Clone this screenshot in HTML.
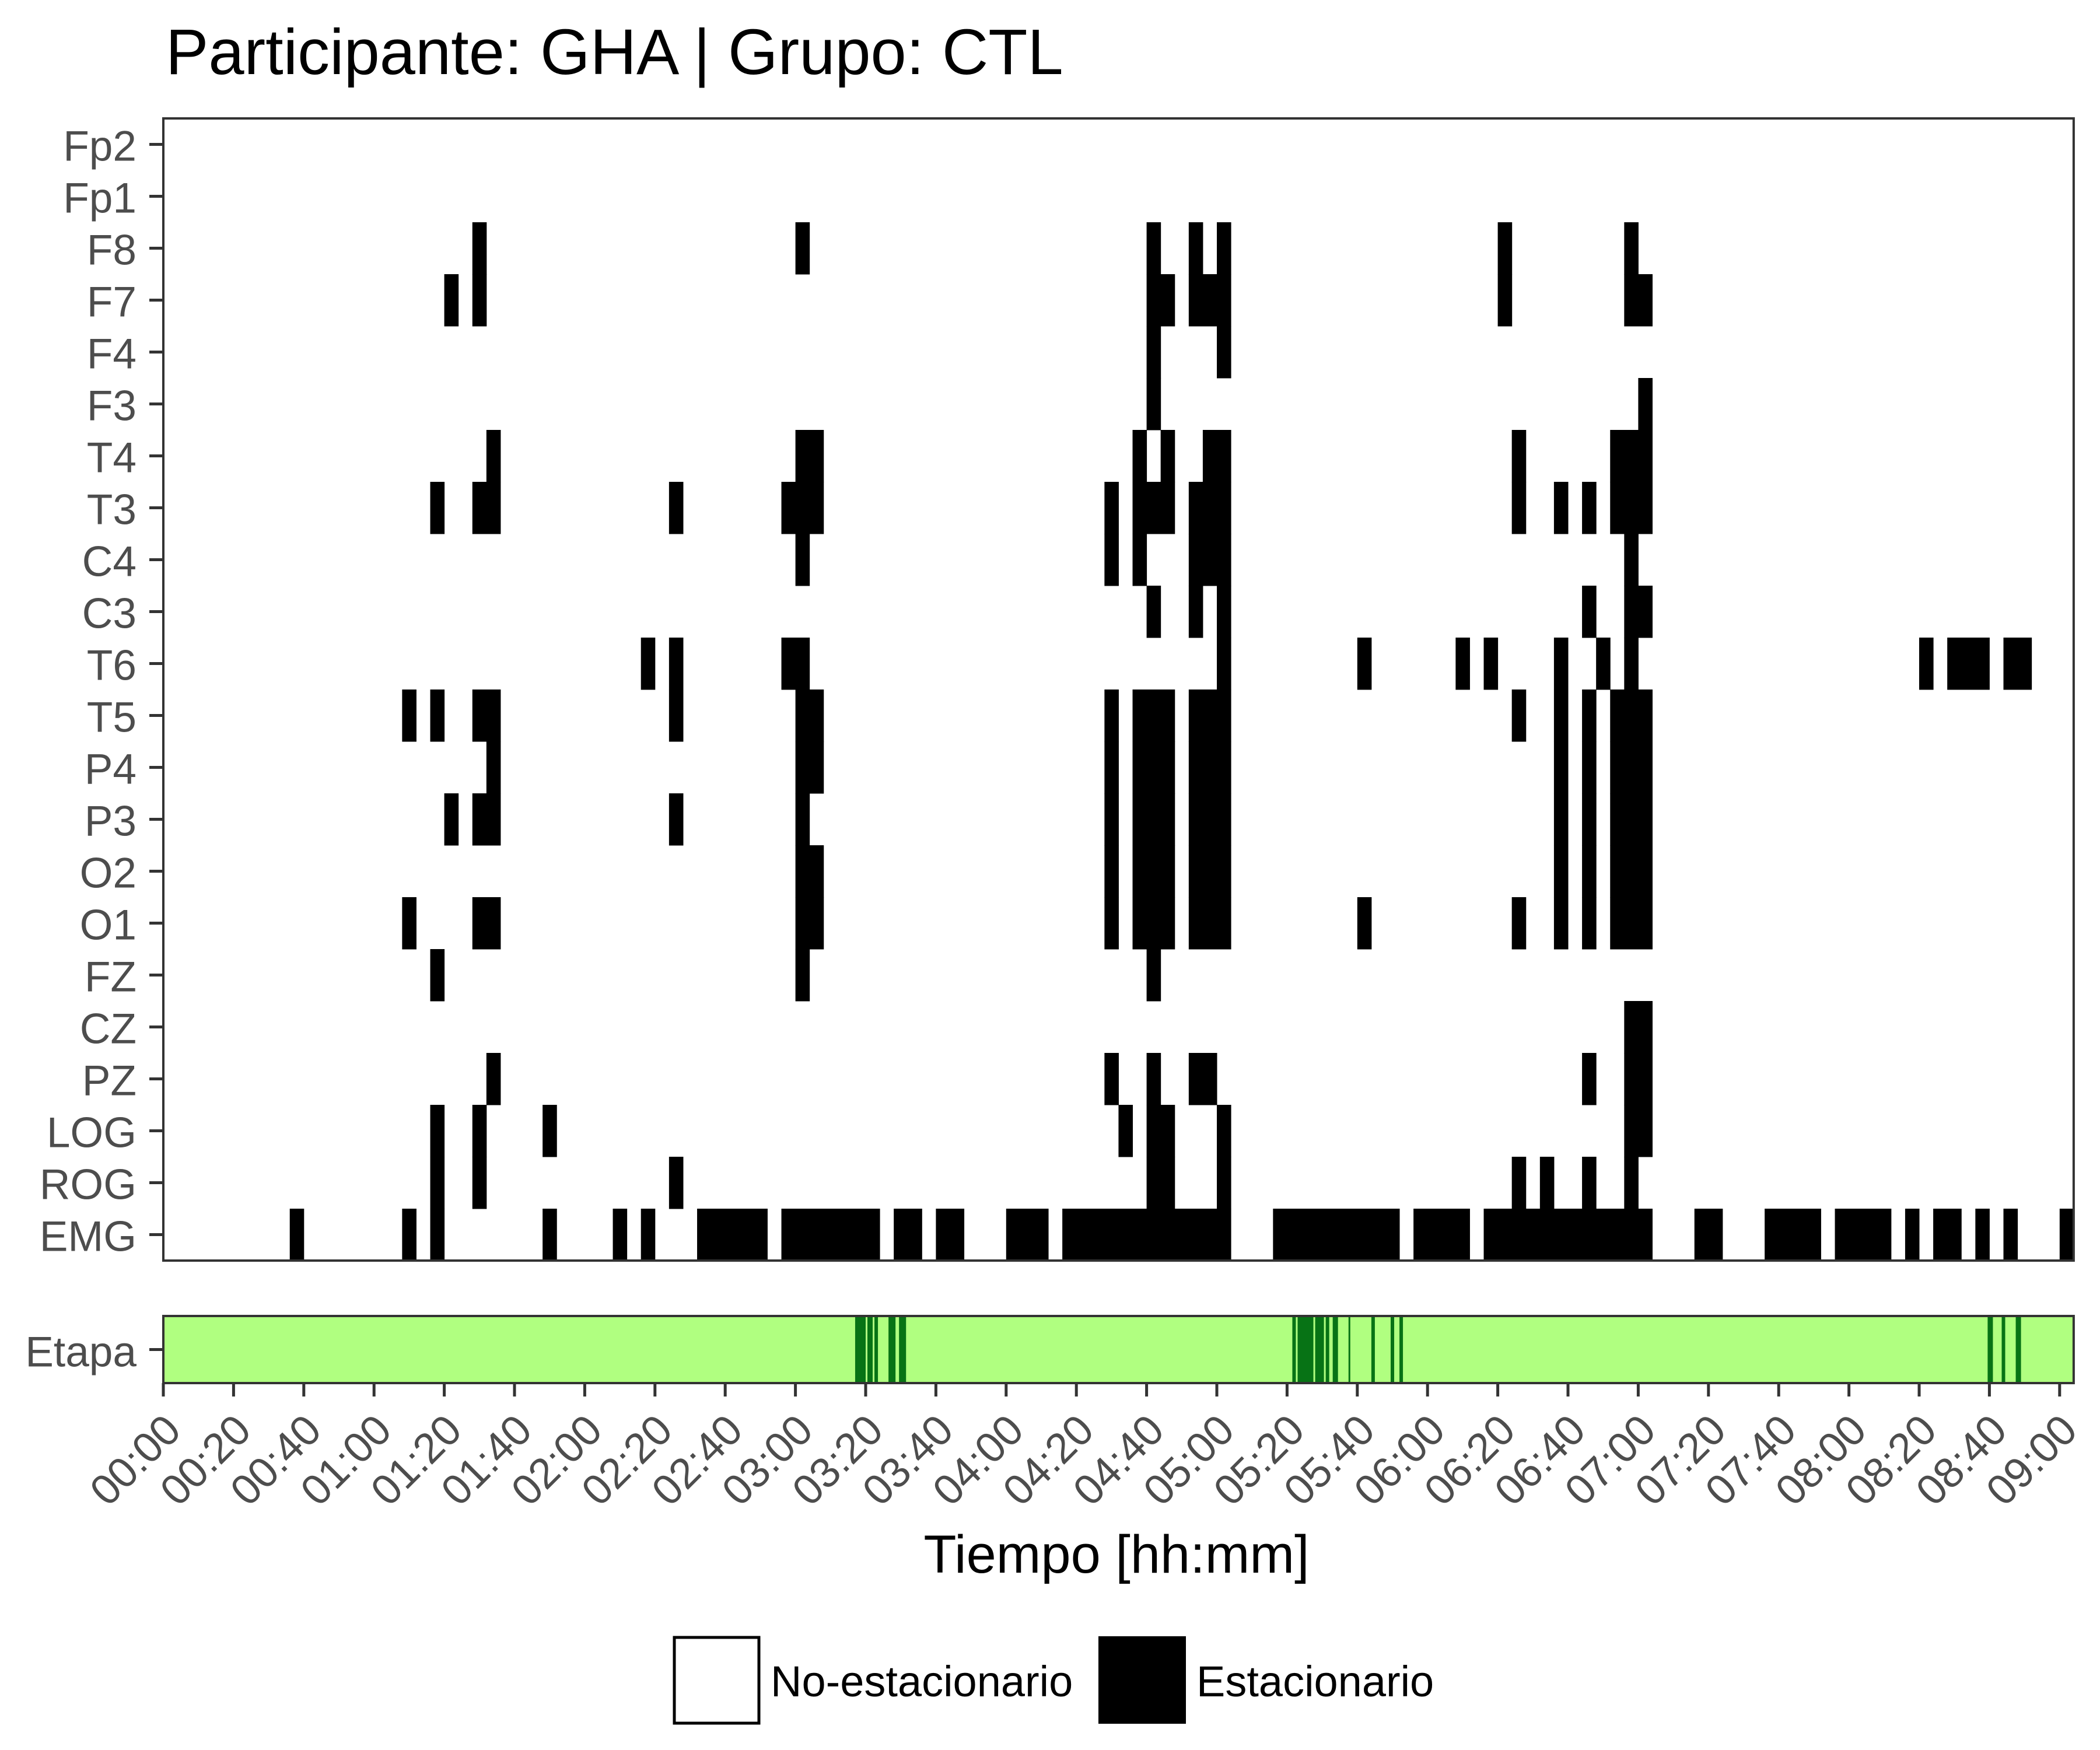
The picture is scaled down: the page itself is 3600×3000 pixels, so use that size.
<!DOCTYPE html>
<html><head><meta charset="utf-8"><style>
html,body{margin:0;padding:0;background:#fff;}
svg{display:block;font-family:"Liberation Sans",Arial,sans-serif;}
</style></head><body>
<svg id="chart" width="3600" height="3000" viewBox="0 0 3600 3000" xmlns="http://www.w3.org/2000/svg">
<rect x="0" y="0" width="3600" height="3000" fill="#fff"/>
<text x="284" y="127" font-size="110" fill="#000">Participante: GHA | Grupo: CTL</text>
<g id="cells"></g>
<g id="stages"></g>
<g id="axes"></g>
<text x="1914" y="2696" font-size="92" text-anchor="middle" fill="#000">Tiempo [hh:mm]</text>
<g>
<rect x="1156" y="2807" width="145" height="147" fill="#fff" stroke="#000" stroke-width="5"/>
<text x="1321" y="2908" font-size="74" fill="#000">No-estacionario</text>
<rect x="1883" y="2805" width="150" height="150" fill="#000"/>
<text x="2051" y="2908" font-size="74" fill="#000">Estacionario</text>
</g>
</svg>
<script>
const channels = ["Fp2","Fp1","F8","F7","F4","F3","T4","T3","C4","C3","T6","T5","P4","P3","O2","O1","FZ","CZ","PZ","LOG","ROG","EMG"];
const nEpochs = 136;
const epochMinutes = 4;
const stationaryFp2 = [];
const stationaryFp1 = [];
const stationaryF8 = [22,45,70,73,75,95,104];
const stationaryF7 = [20,22,70,71,73,74,75,95,104,105];
const stationaryF4 = [70,75];
const stationaryF3 = [70,105];
const stationaryT4 = [23,45,46,69,71,74,75,96,103,104,105];
const stationaryT3 = [19,22,23,36,44,45,46,67,69,70,71,73,74,75,96,99,101,103,104,105];
const stationaryC4 = [45,67,69,73,74,75,104];
const stationaryC3 = [70,73,75,101,104,105];
const stationaryT6 = [34,36,44,45,75,85,92,94,99,102,104,125,127,128,129,131,132];
const stationaryT5 = [17,19,22,23,36,45,46,67,69,70,71,73,74,75,96,99,101,103,104,105];
const stationaryP4 = [23,45,46,67,69,70,71,73,74,75,99,101,103,104,105];
const stationaryP3 = [20,22,23,36,45,67,69,70,71,73,74,75,99,101,103,104,105];
const stationaryO2 = [45,46,67,69,70,71,73,74,75,99,101,103,104,105];
const stationaryO1 = [17,22,23,45,46,67,69,70,71,73,74,75,85,96,99,101,103,104,105];
const stationaryFZ = [19,45,70];
const stationaryCZ = [104,105];
const stationaryPZ = [23,67,70,73,74,101,104,105];
const stationaryLOG = [19,22,27,68,70,71,75,104,105];
const stationaryROG = [19,22,36,70,71,75,96,98,101,104];
const stationaryEMG = [9,17,19,27,32,34,38,39,40,41,42,44,45,46,47,48,49,50,52,53,55,56,60,61,62,64,65,66,67,68,69,70,71,72,73,74,75,79,80,81,82,83,84,85,86,87,89,90,91,92,94,95,96,97,98,99,100,101,102,103,104,105,109,110,114,115,116,117,119,120,121,122,124,126,127,129,131,135];
const stageStartMin = [197,200.5,202.5,206.5,209.5,321.5,323,328,331,333,337.5,344,349.5,352,519.5,523.5,527.5];
const stageEndMin   = [200,202,203.5,208.5,211.5,322.5,327.5,330.5,332,334.5,338,345,350.5,353,521,524.5,529];
const tickLabels = ["00:00","00:20","00:40","01:00","01:20","01:40","02:00","02:20","02:40","03:00","03:20","03:40","04:00","04:20","04:40","05:00","05:20","05:40","06:00","06:20","06:40","07:00","07:20","07:40","08:00","08:20","08:40","09:00"];
const tickMinutes = [0,20,40,60,80,100,120,140,160,180,200,220,240,260,280,300,320,340,360,380,400,420,440,460,480,500,520,540];

const stationaryByChannel = [stationaryFp2,stationaryFp1,stationaryF8,stationaryF7,stationaryF4,stationaryF3,stationaryT4,stationaryT3,stationaryC4,stationaryC3,stationaryT6,stationaryT5,stationaryP4,stationaryP3,stationaryO2,stationaryO1,stationaryFZ,stationaryCZ,stationaryPZ,stationaryLOG,stationaryROG,stationaryEMG];

const NS = "http://www.w3.org/2000/svg";
const X0 = 280, PX_PER_MIN = 120.4/20;
const PANEL_TOP = 203, PANEL_BOTTOM = 2161;
const ROW_H = (PANEL_BOTTOM - PANEL_TOP) / channels.length;
const PANEL_RIGHT = X0 + nEpochs * epochMinutes * PX_PER_MIN;
const STAGE_TOP = 2256, STAGE_BOTTOM = 2371;
function xScale(min){ return X0 + min * PX_PER_MIN; }
function yBand(i){ return PANEL_TOP + i * ROW_H; }
function mk(tag, attrs, parent){ const e = document.createElementNS(NS, tag); for (const k in attrs) e.setAttribute(k, attrs[k]); parent.appendChild(e); return e; }

const cells = document.getElementById('cells');
stationaryByChannel.forEach((arr, ci) => {
  arr.forEach(ep => {
    const x1 = xScale(ep * epochMinutes), x2 = xScale((ep + 1) * epochMinutes);
    const r = mk('rect', {x: x1, y: yBand(ci), width: x2 - x1 + 0.5, height: ROW_H + 0.5, fill: '#000'}, cells);
    
    
  });
});

const stages = document.getElementById('stages');
const stageBg = mk('rect', {x: X0, y: STAGE_TOP, width: PANEL_RIGHT - X0, height: STAGE_BOTTOM - STAGE_TOP, fill: '#b0ff80'}, stages);


stageStartMin.forEach((s, i) => {
  const r = mk('rect', {x: xScale(s), y: STAGE_TOP, width: xScale(stageEndMin[i]) - xScale(s), height: STAGE_BOTTOM - STAGE_TOP, fill: '#077315'}, stages);
  
  
});

const axes = document.getElementById('axes');
const panel = mk('rect', {x: X0, y: PANEL_TOP, width: PANEL_RIGHT - X0, height: PANEL_BOTTOM - PANEL_TOP, fill: 'none', stroke: '#333', 'stroke-width': 4}, axes);


const sp = mk('rect', {x: X0, y: STAGE_TOP, width: PANEL_RIGHT - X0, height: STAGE_BOTTOM - STAGE_TOP, fill: 'none', stroke: '#333', 'stroke-width': 4}, axes);



channels.forEach((c, i) => {
  const cy = yBand(i) + ROW_H / 2;
  const t = mk('line', {x1: 256, x2: X0, y1: cy, y2: cy, stroke: '#333', 'stroke-width': 5}, axes);
  
  
  const lb = mk('text', {x: 234, y: cy + 28, 'font-size': 73, 'text-anchor': 'end', fill: '#4d4d4d'}, axes);
  lb.textContent = c;
  
  
});
const sy = (STAGE_TOP + STAGE_BOTTOM) / 2;
const st = mk('line', {x1: 256, x2: X0, y1: sy, y2: sy, stroke: '#333', 'stroke-width': 5}, axes);


const sl = mk('text', {x: 234, y: sy + 29, 'font-size': 73, 'text-anchor': 'end', fill: '#4d4d4d'}, axes);
sl.textContent = 'Etapa';



tickMinutes.forEach((m, i) => {
  const x = xScale(m);
  const t = mk('line', {x1: x, x2: x, y1: STAGE_BOTTOM, y2: 2394, stroke: '#333', 'stroke-width': 5}, axes);
  
  
  const lx = x + 34, ly = 2456;
  const lb = mk('text', {x: lx, y: ly, 'font-size': 73, 'text-anchor': 'end', fill: '#4d4d4d', transform: 'rotate(-45 ' + lx + ' ' + ly + ')'}, axes);
  lb.textContent = tickLabels[i];
  
  
});
</script>
</body></html>
